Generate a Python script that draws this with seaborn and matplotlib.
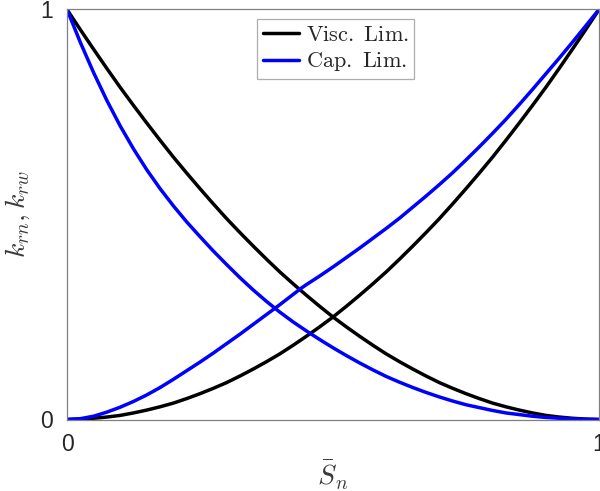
import numpy as np
import pandas as pd
import matplotlib
matplotlib.use("Agg")
import matplotlib.pyplot as plt
import seaborn as sns

# Normalised saturation grid
s_grid = [0.000, 0.025, 0.050, 0.075, 0.100, 0.125, 0.150, 0.175, 0.200, 0.225,
          0.250, 0.275, 0.300, 0.325, 0.350, 0.375, 0.400, 0.425, 0.450, 0.475,
          0.500, 0.525, 0.550, 0.575, 0.600, 0.625, 0.650, 0.675, 0.700, 0.725,
          0.750, 0.775, 0.800, 0.825, 0.850, 0.875, 0.900, 0.925, 0.950, 0.975, 1.000]

# Viscous-limited relative permeabilities
visc_krw = [0.000, 0.001, 0.003, 0.006, 0.010, 0.016, 0.023, 0.031, 0.040, 0.051,
            0.063, 0.076, 0.090, 0.106, 0.123, 0.141, 0.160, 0.181, 0.203, 0.226,
            0.250, 0.276, 0.303, 0.331, 0.360, 0.391, 0.423, 0.456, 0.490, 0.526,
            0.563, 0.601, 0.640, 0.681, 0.723, 0.766, 0.810, 0.856, 0.903, 0.951, 1.000]
visc_krn = [1.000, 0.951, 0.903, 0.856, 0.810, 0.766, 0.723, 0.681, 0.640, 0.601,
            0.563, 0.526, 0.490, 0.456, 0.423, 0.391, 0.360, 0.331, 0.303, 0.276,
            0.250, 0.226, 0.203, 0.181, 0.160, 0.141, 0.123, 0.106, 0.090, 0.076,
            0.063, 0.051, 0.040, 0.031, 0.023, 0.016, 0.010, 0.006, 0.003, 0.001, 0.000]

# Capillary-limited relative permeabilities
cap_krn = [1.000, 0.920, 0.846, 0.778, 0.716, 0.660, 0.609, 0.563, 0.521, 0.482,
           0.446, 0.411, 0.378, 0.346, 0.316, 0.288, 0.262, 0.238, 0.216, 0.195,
           0.175, 0.156, 0.138, 0.121, 0.105, 0.091, 0.078, 0.066, 0.055, 0.045,
           0.036, 0.029, 0.022, 0.016, 0.012, 0.008, 0.005, 0.003, 0.0015, 0.0005, 0.000]
cap_s_w = [0.000, 0.025, 0.050, 0.075, 0.100, 0.125, 0.150, 0.175, 0.200, 0.225,
           0.250, 0.275, 0.300, 0.325, 0.350, 0.375, 0.400, 0.425, 0.440, 0.450,
           0.475, 0.500, 0.525, 0.550, 0.575, 0.600, 0.625, 0.650, 0.675, 0.700,
           0.725, 0.750, 0.775, 0.800, 0.825, 0.850, 0.875, 0.900, 0.925, 0.950,
           0.975, 1.000]
cap_krw = [0.000, 0.002, 0.008, 0.018, 0.030, 0.044, 0.060, 0.078, 0.098, 0.119,
           0.140, 0.162, 0.185, 0.208, 0.232, 0.256, 0.280, 0.305, 0.320, 0.329,
           0.350, 0.372, 0.395, 0.418, 0.442, 0.466, 0.491, 0.518, 0.545, 0.573,
           0.602, 0.633, 0.665, 0.698, 0.732, 0.768, 0.805, 0.843, 0.881, 0.920,
           0.960, 1.000]

sns.set_style("white")
plt.rcParams["mathtext.fontset"] = "cm"
plt.rcParams["font.family"] = ["Liberation Sans", "DejaVu Sans"]

fig = plt.figure(figsize=(6.0, 4.91), dpi=100)
ax = fig.add_axes([67 / 600, 71.5 / 491, 532 / 600, 410 / 491])

lw = 2.5
line_kw = dict(lw=lw, ax=ax, solid_joinstyle="round", solid_capstyle="round")
sns.lineplot(x=s_grid, y=visc_krn, color="black", label=r"$\mathrm{Visc.\ Lim.}$", **line_kw)
sns.lineplot(x=s_grid, y=visc_krw, color="black", **line_kw)
sns.lineplot(x=s_grid, y=cap_krn, color="blue", label=r"$\mathrm{Cap.\ Lim.}$", **line_kw)
sns.lineplot(x=cap_s_w, y=cap_krw, color="blue", **line_kw)

ax.set_xlim(0, 1)
ax.set_ylim(0, 1)
ax.set_xticks([0, 1])
ax.set_yticks([0, 1])
ax.set_xticklabels(["0", "1"])
ax.set_yticklabels(["0", "1"])
ax.tick_params(axis="both", length=0, labelsize=16.5, labelcolor="#262626", pad=10)

for sp in ax.spines.values():
    sp.set_visible(True)
    sp.set_color("#808080")
    sp.set_linewidth(0.9)

ax.set_xlabel(r"$\bar{S}_n$", fontsize=20, color="#3a3a3a", labelpad=2)
ax.set_ylabel(r"$k_{rn}, k_{rw}$", fontsize=20, color="#3a3a3a", labelpad=6)

leg = ax.legend(loc="upper center", bbox_to_anchor=(0.505, 1.0), fontsize=16,
                handlelength=1.65, handletextpad=0.3, labelspacing=0.2,
                borderpad=0.25, borderaxespad=0.45, frameon=True, fancybox=False)
leg.get_frame().set_edgecolor("#999999")
leg.get_frame().set_linewidth(0.9)
for line in leg.get_lines():
    line.set_linewidth(lw)

fig.savefig("out.png", dpi=100)
